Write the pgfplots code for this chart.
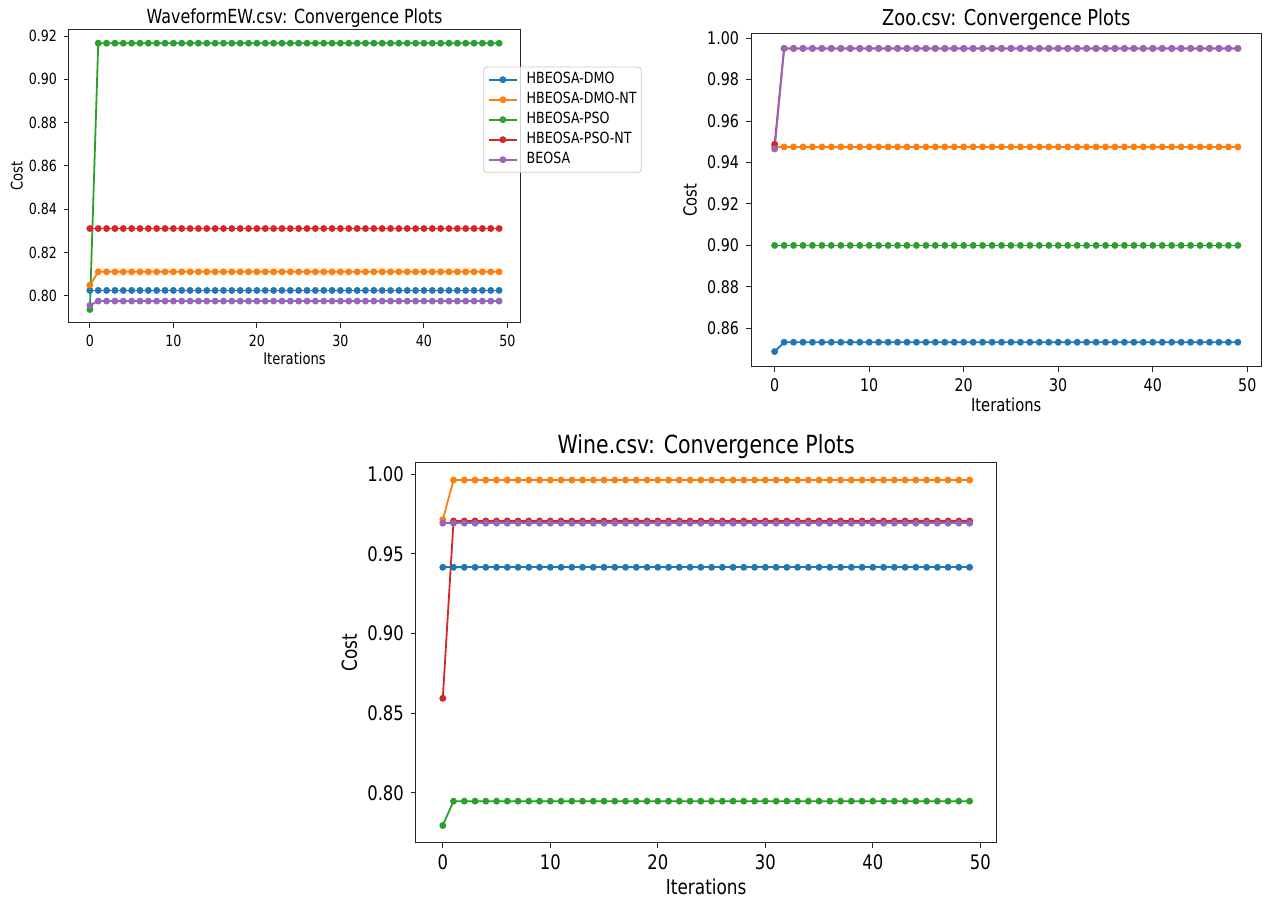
\documentclass[border=0pt]{standalone}
\usepackage{pgfplots}
\pgfplotsset{compat=1.18}
\usepackage{pgfplotstable}
\usepackage{fontspec}
\setmainfont{DejaVu Sans}[FakeStretch=0.82]
\definecolor{cB}{HTML}{1F77B4}
\definecolor{cO}{HTML}{FF7F0E}
\definecolor{cG}{HTML}{2CA02C}
\definecolor{cR}{HTML}{D62728}
\definecolor{cP}{HTML}{9467BD}

% columns: iteration, HBEOSA-DMO, HBEOSA-DMO-NT, HBEOSA-PSO, HBEOSA-PSO-NT, BEOSA
\pgfplotstableread{
x b o g r p
0 0.8025 0.8050 0.7937 0.8311 0.7956
1 0.8025 0.8111 0.9167 0.8311 0.7976
2 0.8025 0.8111 0.9167 0.8311 0.7976
3 0.8025 0.8111 0.9167 0.8311 0.7976
4 0.8025 0.8111 0.9167 0.8311 0.7976
5 0.8025 0.8111 0.9167 0.8311 0.7976
6 0.8025 0.8111 0.9167 0.8311 0.7976
7 0.8025 0.8111 0.9167 0.8311 0.7976
8 0.8025 0.8111 0.9167 0.8311 0.7976
9 0.8025 0.8111 0.9167 0.8311 0.7976
10 0.8025 0.8111 0.9167 0.8311 0.7976
11 0.8025 0.8111 0.9167 0.8311 0.7976
12 0.8025 0.8111 0.9167 0.8311 0.7976
13 0.8025 0.8111 0.9167 0.8311 0.7976
14 0.8025 0.8111 0.9167 0.8311 0.7976
15 0.8025 0.8111 0.9167 0.8311 0.7976
16 0.8025 0.8111 0.9167 0.8311 0.7976
17 0.8025 0.8111 0.9167 0.8311 0.7976
18 0.8025 0.8111 0.9167 0.8311 0.7976
19 0.8025 0.8111 0.9167 0.8311 0.7976
20 0.8025 0.8111 0.9167 0.8311 0.7976
21 0.8025 0.8111 0.9167 0.8311 0.7976
22 0.8025 0.8111 0.9167 0.8311 0.7976
23 0.8025 0.8111 0.9167 0.8311 0.7976
24 0.8025 0.8111 0.9167 0.8311 0.7976
25 0.8025 0.8111 0.9167 0.8311 0.7976
26 0.8025 0.8111 0.9167 0.8311 0.7976
27 0.8025 0.8111 0.9167 0.8311 0.7976
28 0.8025 0.8111 0.9167 0.8311 0.7976
29 0.8025 0.8111 0.9167 0.8311 0.7976
30 0.8025 0.8111 0.9167 0.8311 0.7976
31 0.8025 0.8111 0.9167 0.8311 0.7976
32 0.8025 0.8111 0.9167 0.8311 0.7976
33 0.8025 0.8111 0.9167 0.8311 0.7976
34 0.8025 0.8111 0.9167 0.8311 0.7976
35 0.8025 0.8111 0.9167 0.8311 0.7976
36 0.8025 0.8111 0.9167 0.8311 0.7976
37 0.8025 0.8111 0.9167 0.8311 0.7976
38 0.8025 0.8111 0.9167 0.8311 0.7976
39 0.8025 0.8111 0.9167 0.8311 0.7976
40 0.8025 0.8111 0.9167 0.8311 0.7976
41 0.8025 0.8111 0.9167 0.8311 0.7976
42 0.8025 0.8111 0.9167 0.8311 0.7976
43 0.8025 0.8111 0.9167 0.8311 0.7976
44 0.8025 0.8111 0.9167 0.8311 0.7976
45 0.8025 0.8111 0.9167 0.8311 0.7976
46 0.8025 0.8111 0.9167 0.8311 0.7976
47 0.8025 0.8111 0.9167 0.8311 0.7976
48 0.8025 0.8111 0.9167 0.8311 0.7976
49 0.8025 0.8111 0.9167 0.8311 0.7976
}\wave

\pgfplotstableread{
x b o g r p
0 0.8488 0.9475 0.9000 0.9488 0.9465
1 0.8533 0.9475 0.9000 0.9950 0.9950
2 0.8533 0.9475 0.9000 0.9950 0.9950
3 0.8533 0.9475 0.9000 0.9950 0.9950
4 0.8533 0.9475 0.9000 0.9950 0.9950
5 0.8533 0.9475 0.9000 0.9950 0.9950
6 0.8533 0.9475 0.9000 0.9950 0.9950
7 0.8533 0.9475 0.9000 0.9950 0.9950
8 0.8533 0.9475 0.9000 0.9950 0.9950
9 0.8533 0.9475 0.9000 0.9950 0.9950
10 0.8533 0.9475 0.9000 0.9950 0.9950
11 0.8533 0.9475 0.9000 0.9950 0.9950
12 0.8533 0.9475 0.9000 0.9950 0.9950
13 0.8533 0.9475 0.9000 0.9950 0.9950
14 0.8533 0.9475 0.9000 0.9950 0.9950
15 0.8533 0.9475 0.9000 0.9950 0.9950
16 0.8533 0.9475 0.9000 0.9950 0.9950
17 0.8533 0.9475 0.9000 0.9950 0.9950
18 0.8533 0.9475 0.9000 0.9950 0.9950
19 0.8533 0.9475 0.9000 0.9950 0.9950
20 0.8533 0.9475 0.9000 0.9950 0.9950
21 0.8533 0.9475 0.9000 0.9950 0.9950
22 0.8533 0.9475 0.9000 0.9950 0.9950
23 0.8533 0.9475 0.9000 0.9950 0.9950
24 0.8533 0.9475 0.9000 0.9950 0.9950
25 0.8533 0.9475 0.9000 0.9950 0.9950
26 0.8533 0.9475 0.9000 0.9950 0.9950
27 0.8533 0.9475 0.9000 0.9950 0.9950
28 0.8533 0.9475 0.9000 0.9950 0.9950
29 0.8533 0.9475 0.9000 0.9950 0.9950
30 0.8533 0.9475 0.9000 0.9950 0.9950
31 0.8533 0.9475 0.9000 0.9950 0.9950
32 0.8533 0.9475 0.9000 0.9950 0.9950
33 0.8533 0.9475 0.9000 0.9950 0.9950
34 0.8533 0.9475 0.9000 0.9950 0.9950
35 0.8533 0.9475 0.9000 0.9950 0.9950
36 0.8533 0.9475 0.9000 0.9950 0.9950
37 0.8533 0.9475 0.9000 0.9950 0.9950
38 0.8533 0.9475 0.9000 0.9950 0.9950
39 0.8533 0.9475 0.9000 0.9950 0.9950
40 0.8533 0.9475 0.9000 0.9950 0.9950
41 0.8533 0.9475 0.9000 0.9950 0.9950
42 0.8533 0.9475 0.9000 0.9950 0.9950
43 0.8533 0.9475 0.9000 0.9950 0.9950
44 0.8533 0.9475 0.9000 0.9950 0.9950
45 0.8533 0.9475 0.9000 0.9950 0.9950
46 0.8533 0.9475 0.9000 0.9950 0.9950
47 0.8533 0.9475 0.9000 0.9950 0.9950
48 0.8533 0.9475 0.9000 0.9950 0.9950
49 0.8533 0.9475 0.9000 0.9950 0.9950
}\zoo

\pgfplotstableread{
x b o g r p
0 0.9416 0.9715 0.7794 0.8593 0.9693
1 0.9416 0.9964 0.7947 0.9707 0.9693
2 0.9416 0.9964 0.7947 0.9707 0.9693
3 0.9416 0.9964 0.7947 0.9707 0.9693
4 0.9416 0.9964 0.7947 0.9707 0.9693
5 0.9416 0.9964 0.7947 0.9707 0.9693
6 0.9416 0.9964 0.7947 0.9707 0.9693
7 0.9416 0.9964 0.7947 0.9707 0.9693
8 0.9416 0.9964 0.7947 0.9707 0.9693
9 0.9416 0.9964 0.7947 0.9707 0.9693
10 0.9416 0.9964 0.7947 0.9707 0.9693
11 0.9416 0.9964 0.7947 0.9707 0.9693
12 0.9416 0.9964 0.7947 0.9707 0.9693
13 0.9416 0.9964 0.7947 0.9707 0.9693
14 0.9416 0.9964 0.7947 0.9707 0.9693
15 0.9416 0.9964 0.7947 0.9707 0.9693
16 0.9416 0.9964 0.7947 0.9707 0.9693
17 0.9416 0.9964 0.7947 0.9707 0.9693
18 0.9416 0.9964 0.7947 0.9707 0.9693
19 0.9416 0.9964 0.7947 0.9707 0.9693
20 0.9416 0.9964 0.7947 0.9707 0.9693
21 0.9416 0.9964 0.7947 0.9707 0.9693
22 0.9416 0.9964 0.7947 0.9707 0.9693
23 0.9416 0.9964 0.7947 0.9707 0.9693
24 0.9416 0.9964 0.7947 0.9707 0.9693
25 0.9416 0.9964 0.7947 0.9707 0.9693
26 0.9416 0.9964 0.7947 0.9707 0.9693
27 0.9416 0.9964 0.7947 0.9707 0.9693
28 0.9416 0.9964 0.7947 0.9707 0.9693
29 0.9416 0.9964 0.7947 0.9707 0.9693
30 0.9416 0.9964 0.7947 0.9707 0.9693
31 0.9416 0.9964 0.7947 0.9707 0.9693
32 0.9416 0.9964 0.7947 0.9707 0.9693
33 0.9416 0.9964 0.7947 0.9707 0.9693
34 0.9416 0.9964 0.7947 0.9707 0.9693
35 0.9416 0.9964 0.7947 0.9707 0.9693
36 0.9416 0.9964 0.7947 0.9707 0.9693
37 0.9416 0.9964 0.7947 0.9707 0.9693
38 0.9416 0.9964 0.7947 0.9707 0.9693
39 0.9416 0.9964 0.7947 0.9707 0.9693
40 0.9416 0.9964 0.7947 0.9707 0.9693
41 0.9416 0.9964 0.7947 0.9707 0.9693
42 0.9416 0.9964 0.7947 0.9707 0.9693
43 0.9416 0.9964 0.7947 0.9707 0.9693
44 0.9416 0.9964 0.7947 0.9707 0.9693
45 0.9416 0.9964 0.7947 0.9707 0.9693
46 0.9416 0.9964 0.7947 0.9707 0.9693
47 0.9416 0.9964 0.7947 0.9707 0.9693
48 0.9416 0.9964 0.7947 0.9707 0.9693
49 0.9416 0.9964 0.7947 0.9707 0.9693
}\wine

\pgfplotsset{
  mpl/.style={
    scale only axis,
    xmin=-2.5, xmax=51.5,
    xtick={0,10,20,30,40,50},
    tick align=outside, tick pos=left,
    major tick length=2.5pt,
    axis line style={line width=0.5pt, black!85},
    every tick/.style={black!85, line width=0.5pt},
    /pgf/number format/assume math mode=true,
    yticklabel style={/pgf/number format/fixed, /pgf/number format/fixed zerofill, /pgf/number format/precision=2},
    scaled y ticks=false,
    xlabel={Iterations}, ylabel={Cost},
    title style={anchor=base},
  },
  ser/.style={line width=0.9pt, mark=*, mark size=1.25pt, mark options={solid}},
}

\begin{document}
\begin{tikzpicture}
\path[use as bounding box] (0,0) rectangle (634pt,-449pt);

% ---- WaveformEW ----
\begin{axis}[mpl,
  at={(34.5pt,-15pt)}, anchor=north west,
  width=225.5pt, height=146.35pt,
  ymin=0.7876, ymax=0.9228,
  ytick={0.80,0.82,0.84,0.86,0.88,0.90,0.92},
  tick label style={font=\fontsize{7.7}{9}\selectfont},
  label style={font=\fontsize{8}{9}\selectfont},
  title style={font=\fontsize{9.7}{11}\selectfont, at={(0.5,1)}, yshift=-2.7pt},
  xlabel style={at={(axis description cs:0.5,-0.1218)}, anchor=center},
  ylabel style={at={(axis description cs:-0.116,0.5)}, anchor=center},
  title={WaveformEW.csv: Convergence Plots},
  legend style={at={(0.9186,0.8746)}, anchor=north west, font=\fontsize{7.7}{9}\selectfont,
    draw=black!20, rounded corners=1.5pt, fill=white, fill opacity=0.8, text opacity=1,
    inner xsep=2pt, inner ysep=1.3pt, row sep=0pt, column sep=4pt,
    nodes={inner xsep=0.3pt, inner ysep=1.5pt, text height=5.6pt, text depth=1.4pt}},
  legend cell align=left,
  legend image code/.code={
    \draw[#1, line width=0.9pt, mark=none] (0pt,0pt) -- (14.3pt,0pt);
    \draw[#1, mark=*, mark size=1.25pt, only marks] plot coordinates {(7.15pt,0pt)};
  },
]
\addplot[ser, cB] table[x=x, y=b] {\wave};
\addlegendentry{HBEOSA-DMO}
\addplot[ser, cO] table[x=x, y=o] {\wave};
\addlegendentry{HBEOSA-DMO-NT}
\addplot[ser, cG] table[x=x, y=g] {\wave};
\addlegendentry{HBEOSA-PSO}
\addplot[ser, cR] table[x=x, y=r] {\wave};
\addlegendentry{HBEOSA-PSO-NT}
\addplot[ser, cP] table[x=x, y=p] {\wave};
\addlegendentry{BEOSA}
\end{axis}

% ---- Zoo ----
\begin{axis}[mpl,
  at={(375.5pt,-16.65pt)}, anchor=north west,
  width=255.25pt, height=166.7pt,
  ymin=0.8415, ymax=1.0023,
  ytick={0.86,0.88,0.90,0.92,0.94,0.96,0.98,1.00},
  tick label style={font=\fontsize{8.7}{10}\selectfont},
  label style={font=\fontsize{9}{10}\selectfont},
  title style={font=\fontsize{10.9}{12}\selectfont, at={(0.5,1)}, yshift=-2.35pt},
  xlabel style={at={(axis description cs:0.5,-0.1149)}, anchor=center},
  ylabel style={at={(axis description cs:-0.1195,0.5)}, anchor=center},
  title={Zoo.csv: Convergence Plots},
]
\addplot[ser, cB] table[x=x, y=b] {\zoo};
\addplot[ser, cO] table[x=x, y=o] {\zoo};
\addplot[ser, cG] table[x=x, y=g] {\zoo};
\addplot[ser, cR] table[x=x, y=r] {\zoo};
\addplot[ser, cP] table[x=x, y=p] {\zoo};
\end{axis}

% ---- Wine ----
\begin{axis}[mpl,
  at={(207.95pt,-231.35pt)}, anchor=north west,
  width=290.3pt, height=190pt,
  ymin=0.7686, ymax=1.0073,
  ytick={0.80,0.85,0.90,0.95,1.00},
  tick label style={font=\fontsize{10}{12}\selectfont},
  label style={font=\fontsize{10.3}{12}\selectfont},
  title style={font=\fontsize{12.5}{14}\selectfont, at={(0.5,1)}, yshift=-1.3pt},
  xlabel style={at={(axis description cs:0.5,-0.1166)}, anchor=center},
  ylabel style={at={(axis description cs:-0.1144,0.5)}, anchor=center},
  title={Wine.csv: Convergence Plots},
]
\addplot[ser, cB] table[x=x, y=b] {\wine};
\addplot[ser, cO] table[x=x, y=o] {\wine};
\addplot[ser, cG] table[x=x, y=g] {\wine};
\addplot[ser, cR] table[x=x, y=r] {\wine};
\addplot[ser, cP] table[x=x, y=p] {\wine};
\end{axis}
\end{tikzpicture}
\end{document}
